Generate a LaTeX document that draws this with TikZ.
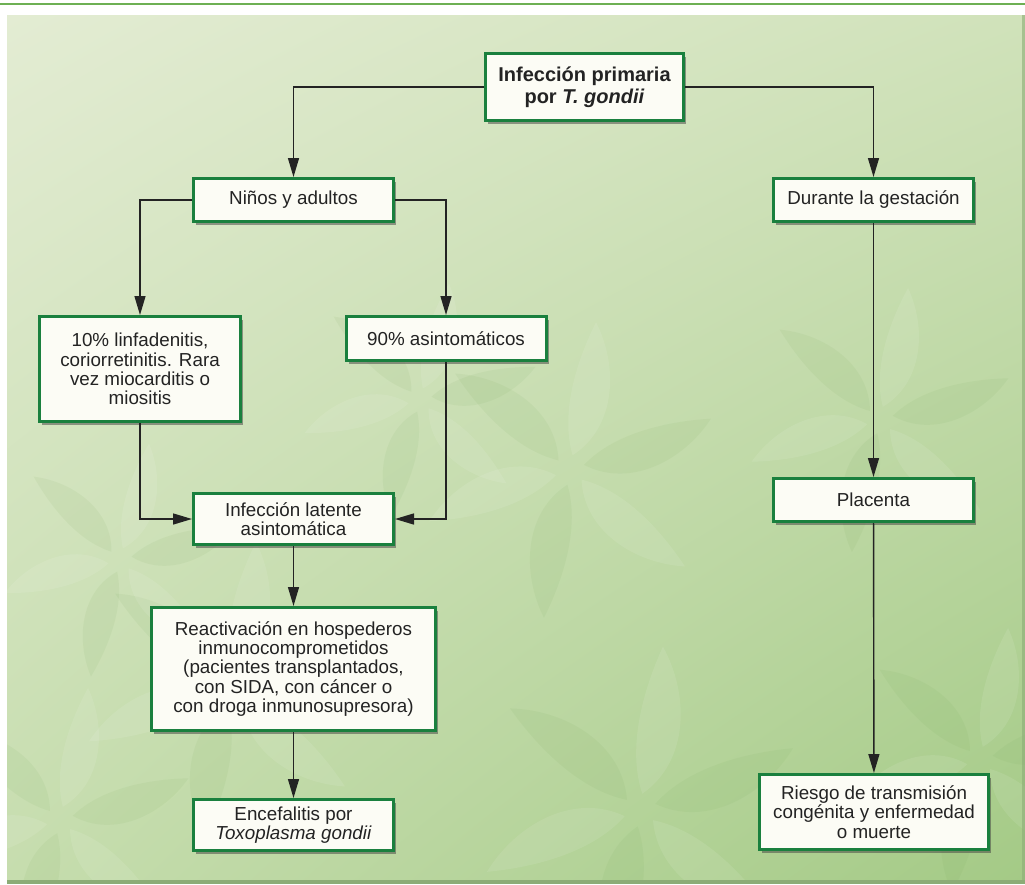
\documentclass[tikz,border=0pt]{standalone}
\usepackage{fontspec}
\setmainfont{Liberation Sans}
\usetikzlibrary{arrows.meta,shadows,shadings}
\definecolor{boxgreen}{RGB}{26,128,62}
\definecolor{boxfill}{RGB}{252,252,245}
\definecolor{textc}{RGB}{35,35,35}
\definecolor{topline}{RGB}{110,176,84}
\definecolor{bgUL}{RGB}{227,236,211}
\definecolor{bgUR}{RGB}{208,226,186}
\definecolor{bgLL}{RGB}{198,221,174}
\definecolor{bgLR}{RGB}{164,202,134}
\definecolor{leafdark}{RGB}{110,160,80}
\definecolor{edgec}{RGB}{140,172,118}
\begin{document}
\begin{tikzpicture}[x=1pt,y=-1pt,
  box/.style={draw=boxgreen, line width=3pt, fill=boxfill, align=center,
    text=textc, inner sep=2pt, font=\fontsize{18.8}{19.3}\selectfont,
    drop shadow={shadow xshift=2.5pt, shadow yshift=-3.5pt, fill=black!75, opacity=0.5}},
  conn/.style={draw=textc, line width=1.4pt, -{Triangle[length=19pt,width=11pt]}},
  leafA/.style={fill=leafdark, opacity=0.08},
  leafB/.style={fill=white, opacity=0.09}
]
\useasboundingbox (0,0) rectangle (1025,884);
\fill[white] (0,0) rectangle (1025,884);
\draw[topline, line width=2pt] (0,4) -- (1025,4);
\shade[upper left=bgUL, upper right=bgUR, lower left=bgLL, lower right=bgLR] (7,15) rectangle (1025,881);
% faint leaf pattern
\begin{scope}
\clip (7,15) rectangle (1025,881);
\foreach \cx/\cy/\s in {570/470/1, 880/420/0.9, 230/690/1, 640/810/1.1, 980/760/0.9, 60/820/0.9, 420/400/0.8, 120/560/0.8}{
  \foreach \a/\st in {0/leafA, 60/leafB, 120/leafA, 180/leafB, 240/leafA, 300/leafB}{
    \fill[\st, shift={(\cx,\cy)}, rotate=\a+20*\s, scale=\s]
      (15,0) .. controls (50,38) and (110,30) .. (150,0)
             .. controls (110,-12) and (55,-20) .. (15,0);
  }
}
\end{scope}
\fill[edgec] (7,880) rectangle (1025,884);
\fill[edgec, opacity=0.6] (1022,15) rectangle (1025,884);

\node[box, minimum width=198pt, minimum height=67pt, font=\fontsize{20}{22}\selectfont\bfseries] (top) at (584.5,87) {Infección primaria\\por \textit{T. gondii}};
\node[box, minimum width=200pt, minimum height=43pt] (ninos) at (293.5,200) {Niños y adultos};
\node[box, minimum width=200pt, minimum height=43pt] (durante) at (873.5,200) {Durante la gestación};
\node[box, minimum width=201pt, minimum height=105pt] (diez) at (140,369) {10\% linfadenitis,\\coriorretinitis. Rara\\vez miocarditis o\\miositis};
\node[box, minimum width=200pt, minimum height=44pt] (noventa) at (446,338.5) {90\% asintomáticos};
\node[box, minimum width=200pt, minimum height=51pt] (latente) at (293.5,519) {Infección latente\\asintomática};
\node[box, minimum width=284pt, minimum height=123pt] (reac) at (293.5,669) {Reactivación en hospederos\\inmunocomprometidos\\(pacientes transplantados,\\con SIDA, con cáncer o\\con droga inmunosupresora)};
\node[box, minimum width=200pt, minimum height=51pt] (enc) at (293.5,825) {Encefalitis por\\\textit{Toxoplasma gondii}};
\node[box, minimum width=200pt, minimum height=43pt] (placenta) at (873.5,500) {Placenta};
\node[box, minimum width=229pt, minimum height=75pt] (riesgo) at (874,812) {Riesgo de transmisión\\congénita y enfermedad\\o muerte};

\draw[conn] (top.west) -| (ninos.north);
\draw[conn] (top.east) -| (durante.north);
\draw[conn] (ninos.west) -| (diez.north);
\draw[conn] (ninos.east) -| (noventa.north);
\draw[conn] (diez.south) |- (latente.west);
\draw[conn] (noventa.south) |- (latente.east);
\draw[conn] (latente) -- (reac);
\draw[conn] (reac) -- (enc);
\draw[conn] (durante) -- (placenta);
\draw[conn] (placenta) -- (riesgo);
\end{tikzpicture}
\end{document}
